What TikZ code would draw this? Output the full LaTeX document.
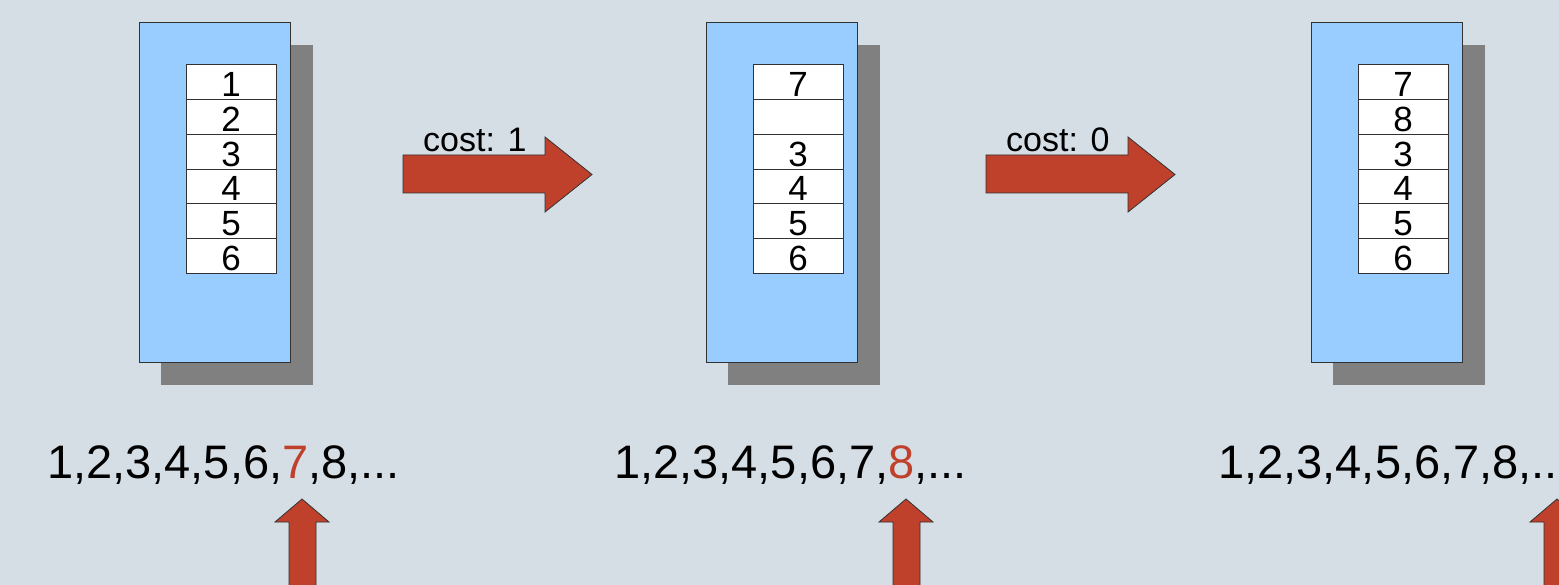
\documentclass[tikz,border=0pt]{standalone}
\usepackage{fontspec}
\setmainfont{Liberation Sans}
\definecolor{bgc}{RGB}{213,221,229}
\definecolor{boxblue}{RGB}{153,204,255}
\definecolor{shadowgray}{RGB}{128,128,128}
\definecolor{arrowred}{RGB}{192,65,43}
\definecolor{edgec}{RGB}{50,50,50}
\tikzset{
  shadowbox/.style={fill=shadowgray, draw=none},
  bluebox/.style={fill=boxblue, draw=edgec, line width=1pt},
  cell/.style={fill=white, draw=edgec, line width=1pt},
  celltext/.style={anchor=base, inner sep=0pt, font=\fontsize{35}{36}\selectfont},
  seqtext/.style={anchor=base west, inner sep=0pt, font=\fontsize{47}{50}\selectfont},
  costtext/.style={anchor=base west, inner sep=0pt, font=\fontsize{34}{36}\selectfont},
  blockarrow/.style={fill=arrowred, draw=edgec, line width=0.8pt, line join=miter},
}
\begin{document}
\begin{tikzpicture}[x=1pt,y=-1pt]
\fill[bgc] (0,0) rectangle (1559,585);
\useasboundingbox (0,0) rectangle (1559,585);
\clip (0,0) rectangle (1559,585);
% boxes
\foreach \bx/\labs [count=\k] in {139/{1,2,3,4,5,6}, 706/{7,,3,4,5,6}, 1311/{7,8,3,4,5,6}}{
  \fill[shadowbox] (\bx+22,45) rectangle (\bx+174,385);
  \draw[bluebox] (\bx,23) rectangle (\bx+151,363);
  \foreach \l [count=\i] in \labs {
    \pgfmathsetmacro{\ytop}{65+(\i-1)*34.7}
    \pgfmathsetmacro{\ybot}{65+\i*34.7}
    \draw[cell] (\bx+47,\ytop) rectangle (\bx+137,\ybot);
    \node[celltext] (c\k-\i) at (\bx+92,\ybot-3) {\l};
  }
}
% right arrows
\foreach \ax/\lab [count=\k] in {403/1, 986/0}{
  \draw[blockarrow] (\ax,155) -- (\ax+142,155) -- (\ax+142,137) -- (\ax+189,174.5)
     -- (\ax+142,212) -- (\ax+142,193) -- (\ax,193) -- cycle;
  \node[costtext] (cost\k) at (\ax+20,152) {cost: \lab};
}
% sequences
\node[seqtext] (s1) at (47,478) {1,2,3,4,5,6,\textcolor{arrowred}{7},8,...};
\node[seqtext] (s2) at (614,478) {1,2,3,4,5,6,7,\textcolor{arrowred}{8},...};
\node[seqtext] (s3) at (1218,478) {1,2,3,4,5,6,7,8,...};
% up arrows
\foreach \tx in {302, 906, 1557}{
  \draw[blockarrow] (\tx,499) -- (\tx+27,522) -- (\tx+14,522) -- (\tx+14,600)
     -- (\tx-13,600) -- (\tx-13,522) -- (\tx-27,522) -- cycle;
}
\end{tikzpicture}
\end{document}
